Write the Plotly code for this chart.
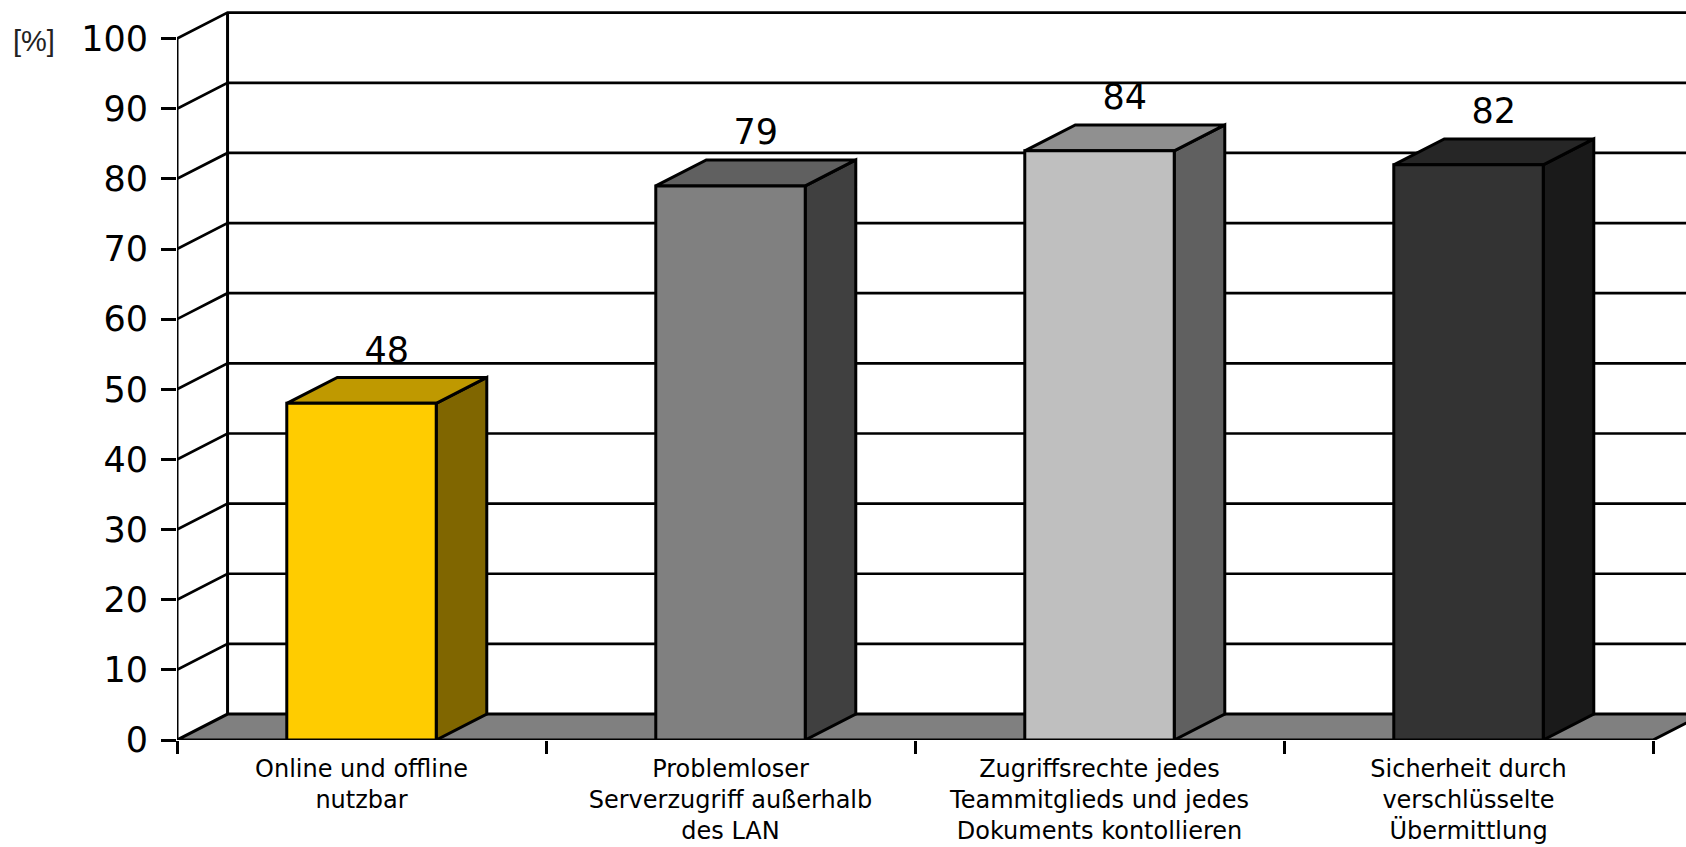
import plotly.graph_objects as go

categories = [
    "Online und offline<br>nutzbar",
    "Problemloser<br>Serverzugriff außerhalb<br>des LAN",
    "Zugriffsrechte jedes<br>Teammitglieds und jedes<br>Dokuments kontollieren",
    "Sicherheit durch<br>verschlüsselte<br>Übermittlung",
]
values = [48, 79, 84, 82]
front_colors = ["#FFCC00", "#808080", "#BFBFBF", "#333333"]
side_colors = ["#806600", "#404040", "#606060", "#1A1A1A"]
top_colors = ["#BF9900", "#606060", "#909090", "#262626"]
y_ticks = [0, 10, 20, 30, 40, 50, 60, 70, 80, 90, 100]

DEPTH_X = 0.137
DEPTH_Y = 3.7
BAR_W = 0.405
LW = 3
BLACK = "#000000"
FONT = "DejaVu Sans"

n = len(categories)
fig = go.Figure()


def line(xs, ys, width=LW):
    fig.add_trace(go.Scatter(x=xs, y=ys, mode="lines", cliponaxis=True, hoverinfo="skip",
                             showlegend=False, line=dict(color=BLACK, width=width)))


def poly(xs, ys, color):
    fig.add_trace(go.Scatter(x=xs + xs[:1], y=ys + ys[:1], mode="lines", fill="toself",
                             fillcolor=color, cliponaxis=False, hoverinfo="skip", showlegend=False,
                             line=dict(color=BLACK, width=LW)))


# walls and gridlines
for v in y_ticks[1:]:
    line([0, DEPTH_X, n + DEPTH_X], [v, v + DEPTH_Y, v + DEPTH_Y], 2.7)
line([DEPTH_X, DEPTH_X], [DEPTH_Y, 100 + DEPTH_Y])
line([0, 0], [0, 100])

# floor
poly([0, DEPTH_X, n + DEPTH_X, n], [0, DEPTH_Y, DEPTH_Y, 0], "#808080")

# 3D bars
for i, v in enumerate(values):
    l, r = i + 0.5 - BAR_W / 2, i + 0.5 + BAR_W / 2
    poly([r, r + DEPTH_X, r + DEPTH_X, r], [0, DEPTH_Y, v + DEPTH_Y, v], side_colors[i])
    poly([l, l + DEPTH_X, r + DEPTH_X, r], [v, v + DEPTH_Y, v + DEPTH_Y, v], top_colors[i])
    poly([l, r, r, l], [0, 0, v, v], front_colors[i])

# value labels
fig.add_trace(go.Scatter(
    x=[i + 0.5 + DEPTH_X / 2 for i in range(n)],
    y=[v + 7.2 for v in values],
    text=[str(v) for v in values], mode="text", textposition="middle center",
    textfont=dict(family=FONT, size=35, color=BLACK),
    cliponaxis=False, hoverinfo="skip", showlegend=False,
))

fig.update_layout(
    width=1686, height=847, autosize=False,
    margin=dict(l=176.8, r=0, t=0, b=107, pad=0, autoexpand=False),
    paper_bgcolor="#FFFFFF", plot_bgcolor="#FFFFFF", showlegend=False,
    xaxis=dict(
        range=[0, (1686 - 176.8) / 369.05], showgrid=False, zeroline=False, showline=False,
        automargin=False,
        tickmode="array", tickvals=[i + 0.5 for i in range(n)], ticktext=categories,
        ticks="", tickangle=0, ticklabelstandoff=12,
        tickfont=dict(family=FONT, size=24, color=BLACK),
        minor=dict(tickmode="array", tickvals=list(range(n + 1)), ticks="outside",
                   ticklen=13, tickwidth=LW, tickcolor=BLACK, showgrid=False),
    ),
    yaxis=dict(
        range=[0, 739.9 / 7.013], showgrid=False, zeroline=False, showline=False,
        automargin=False,
        tickmode="array", tickvals=y_ticks, ticks="outside", ticklen=15, tickwidth=LW,
        tickcolor=BLACK, ticklabelstandoff=6,
        tickfont=dict(family=FONT, size=35, color=BLACK),
    ),
    annotations=[dict(text="[%]", xref="paper", yref="paper", x=(34 - 176.8) / 1509.2,
                      y=1 - 41 / 740, xanchor="center", yanchor="middle", showarrow=False,
                      font=dict(family="Liberation Sans", size=29, color="#222222"))],
)

fig.write_html("out.html", config={"displayModeBar": False},
               post_script="document.body.style.margin='0';document.body.style.overflow='hidden';")
